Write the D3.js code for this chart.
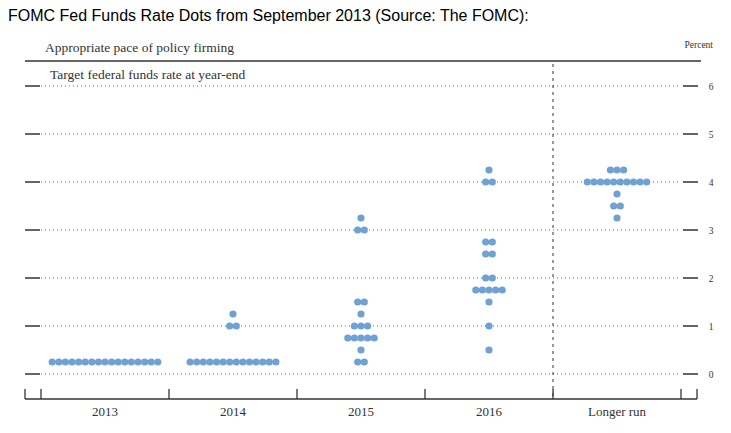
<!DOCTYPE html>
<html lang="en">
<head>
    <meta charset="UTF-8">
    <title>FOMC Dots</title>
    <script src="https://d3js.org/d3.v7.min.js"></script>
    <style>
        body {
            margin: 0;
            background-color: #fff;
        }
        .title {
            font-family: "Liberation Sans", Arial, sans-serif;
            font-size: 16px;
            fill: #000;
        }
        .serif {
            font-family: "Liberation Serif", "DejaVu Serif", serif;
            fill: #333;
        }
    </style>
</head>
<body>
<div id="chart"></div>

<script>
    // categories and each participant's projected rate (percent)
    const categories = ["2013", "2014", "2015", "2016", "Longer run"];

    const rates2013 = [0.25, 0.25, 0.25, 0.25, 0.25, 0.25, 0.25, 0.25, 0.25,
        0.25, 0.25, 0.25, 0.25, 0.25, 0.25, 0.25, 0.25];
    const rates2014 = [0.25, 0.25, 0.25, 0.25, 0.25, 0.25, 0.25, 0.25, 0.25,
        0.25, 0.25, 0.25, 0.25, 0.25, 1.0, 1.0, 1.25];
    const rates2015 = [0.25, 0.25, 0.5, 0.75, 0.75, 0.75, 0.75, 0.75, 1.0, 1.0, 1.0,
        1.25, 1.5, 1.5, 3.0, 3.0, 3.25];
    const rates2016 = [0.5, 1.0, 1.5, 1.75, 1.75, 1.75, 1.75, 1.75, 2.0, 2.0, 2.5, 2.5,
        2.75, 2.75, 4.0, 4.0, 4.25];
    const ratesLonger = [3.25, 3.5, 3.5, 3.75, 4.0, 4.0, 4.0, 4.0, 4.0, 4.0, 4.0, 4.0,
        4.0, 4.0, 4.25, 4.25, 4.25];

    const allRates = [rates2013, rates2014, rates2015, rates2016, ratesLonger];
    const yTicks = [0, 1, 2, 3, 4, 5, 6];

    const width = 731, height = 433;
    const svg = d3.select("#chart").append("svg")
        .attr("width", width)
        .attr("height", height);

    const x = d3.scaleBand().domain(categories).range([41, 681]);
    const y = d3.scaleLinear().domain([0, 6]).range([374, 86]);

    const lineColor = "#333";
    const dotColor = "#6fa1d2";
    const dotStep = 6.6;

    svg.append("text")
        .attr("class", "title")
        .attr("x", 8)
        .attr("y", 21)
        .text("FOMC Fed Funds Rate Dots from September 2013 (Source: The FOMC):");

    svg.append("text")
        .attr("class", "serif")
        .attr("x", 45)
        .attr("y", 52)
        .attr("font-size", 13.5)
        .text("Appropriate pace of policy firming");

    svg.append("text")
        .attr("class", "serif")
        .attr("x", 713)
        .attr("y", 48)
        .attr("font-size", 9.5)
        .attr("text-anchor", "end")
        .text("Percent");

    svg.append("line")
        .attr("x1", 25).attr("x2", 701)
        .attr("y1", 61).attr("y2", 61)
        .attr("stroke", lineColor)
        .attr("stroke-width", 1.3);

    svg.append("text")
        .attr("class", "serif")
        .attr("x", 50)
        .attr("y", 79)
        .attr("font-size", 13.5)
        .text("Target federal funds rate at year-end");

    // dotted gridlines
    svg.selectAll(".grid")
        .data(yTicks)
        .enter()
        .append("line")
        .attr("x1", x.range()[0])
        .attr("x2", x.range()[1])
        .attr("y1", d => y(d))
        .attr("y2", d => y(d))
        .attr("stroke", "#666")
        .attr("stroke-width", 1)
        .attr("stroke-dasharray", "1,3");

    // short tick marks on both sides
    svg.selectAll(".tickL")
        .data(yTicks)
        .enter()
        .append("line")
        .attr("x1", 25).attr("x2", 40)
        .attr("y1", d => y(d)).attr("y2", d => y(d))
        .attr("stroke", lineColor)
        .attr("stroke-width", 1.5);

    svg.selectAll(".tickR")
        .data(yTicks)
        .enter()
        .append("line")
        .attr("x1", 683).attr("x2", 698)
        .attr("y1", d => y(d)).attr("y2", d => y(d))
        .attr("stroke", lineColor)
        .attr("stroke-width", 1.5);

    svg.selectAll(".ylab")
        .data(yTicks)
        .enter()
        .append("text")
        .attr("class", "serif")
        .attr("x", 711)
        .attr("y", d => y(d) + 3.5)
        .attr("font-size", 9.5)
        .attr("text-anchor", "middle")
        .text(d => d);

    // vertical dashed separator before "Longer run"
    svg.append("line")
        .attr("x1", x("Longer run")).attr("x2", x("Longer run"))
        .attr("y1", 64).attr("y2", 399)
        .attr("stroke", lineColor)
        .attr("stroke-width", 1)
        .attr("stroke-dasharray", "3,4");

    // bottom axis
    svg.append("line")
        .attr("x1", 25).attr("x2", 697)
        .attr("y1", 399).attr("y2", 399)
        .attr("stroke", lineColor)
        .attr("stroke-width", 1.3);

    const bottomTicks = [25].concat(categories.map(c => x(c)), [x.range()[1], 697]);
    svg.selectAll(".tickB")
        .data(bottomTicks)
        .enter()
        .append("line")
        .attr("x1", d => d).attr("x2", d => d)
        .attr("y1", 389).attr("y2", 399)
        .attr("stroke", lineColor)
        .attr("stroke-width", 1.3);

    svg.selectAll(".xlab")
        .data(categories)
        .enter()
        .append("text")
        .attr("class", "serif")
        .attr("x", d => x(d) + x.bandwidth() / 2)
        .attr("y", 416)
        .attr("font-size", 13)
        .attr("text-anchor", "middle")
        .text(d => d);

    // dots: group equal values, centre each row in its column
    const dots = [];
    categories.forEach((cat, i) => {
        const counts = d3.rollup(allRates[i], v => v.length, d => d);
        counts.forEach((n, rate) => {
            for (let k = 0; k < n; k++) {
                dots.push({ cat: cat, rate: rate, offset: (k - (n - 1) / 2) * dotStep });
            }
        });
    });

    svg.selectAll(".dot")
        .data(dots)
        .enter()
        .append("circle")
        .attr("cx", d => x(d.cat) + x.bandwidth() / 2 + d.offset)
        .attr("cy", d => y(d.rate))
        .attr("r", 3.6)
        .attr("fill", dotColor);
</script>
</body>
</html>
